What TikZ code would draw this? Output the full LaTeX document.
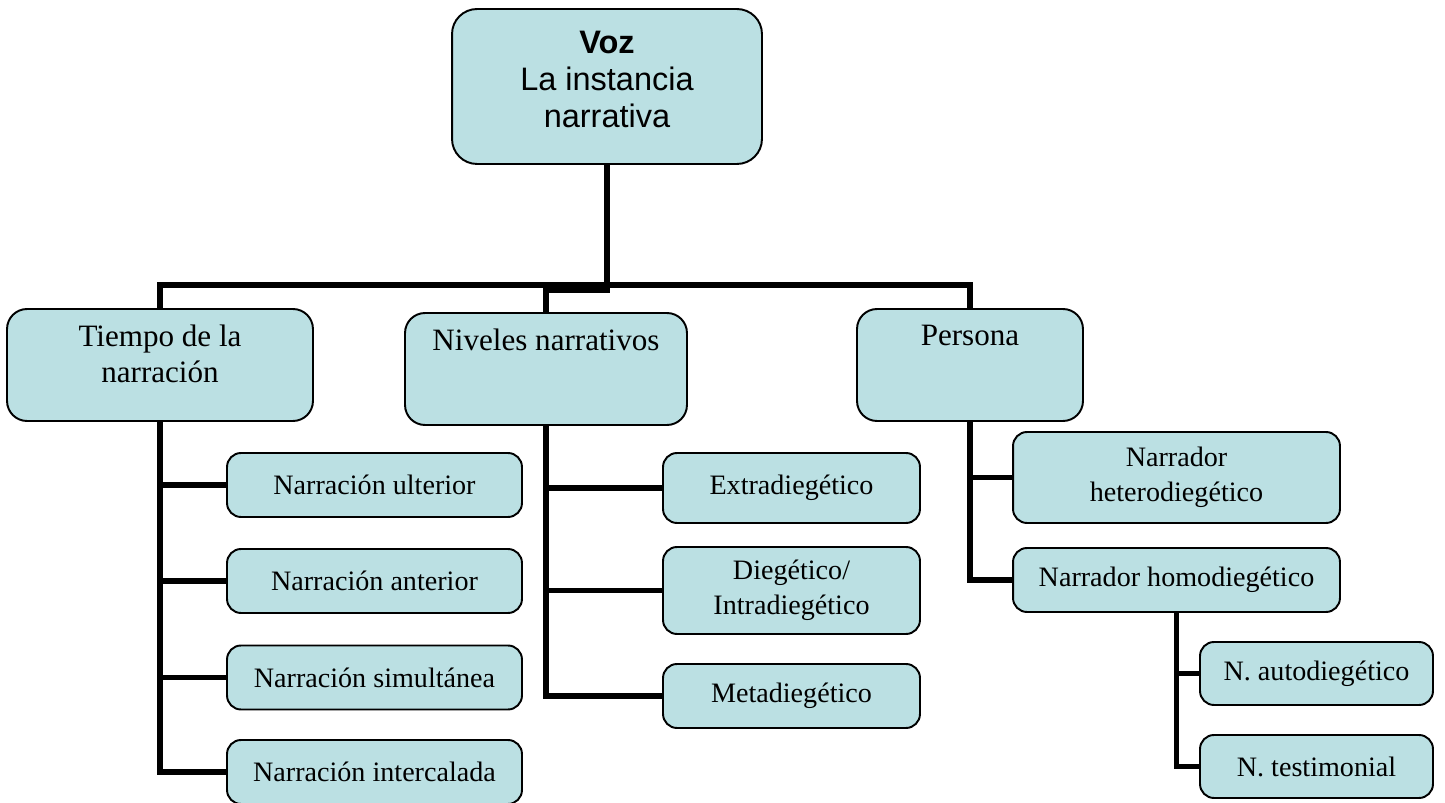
\documentclass[tikz,border=0pt]{standalone}
\usepackage{fontspec}
\setmainfont{Liberation Serif}
\newfontfamily\arialfont{Liberation Sans}
\usetikzlibrary{positioning}
\definecolor{boxfill}{RGB}{187,224,227}

\begin{document}
\begin{tikzpicture}[x=0.02cm, y=-0.02cm,
    box/.style={draw=black, fill=boxfill, line width=1.1pt, rounded corners=0.28cm,
      align=center, inner sep=0pt, font=\fontsize{16}{20}\selectfont},
    bigbox/.style={box, rounded corners=0.4cm, minimum height=2.24cm},
    toptext/.style={anchor=north, yshift=-0.34cm, inner sep=0pt, align=center,
      font=\fontsize{17.7}{20.5}\selectfont},
    link/.style={line width=3.2pt}]
        \useasboundingbox (0,0) rectangle (1445,803);

        % Draw the blocks
        \node (voz) [bigbox, rounded corners=0.5cm, minimum width=6.2cm, minimum height=3.1cm,
          label={[anchor=north, yshift=-0.46cm, inner sep=0pt, align=center,
            font=\arialfont\fontsize{18.5}{21}\selectfont]north:\textbf{Voz}\\La instancia\\narrativa}] at (607,86.5) {};

        \node (tiempo)  [bigbox, minimum width=6.12cm, label={[toptext]north:Tiempo de la\\narración}] at (160,365) {};
        \node (niveles) [bigbox, minimum width=5.64cm, label={[toptext]north:Niveles narrativos}] at (546,369) {};
        \node (persona) [bigbox, minimum width=4.52cm, label={[toptext]north:Persona}] at (970,365) {};

        \node (ulterior)    [box, minimum width=5.9cm, minimum height=1.28cm] at (374.5,485) {Narración ulterior};
        \node (anterior)    [box, minimum width=5.9cm, minimum height=1.28cm] at (374.5,581) {Narración anterior};
        \node (simultanea)  [box, minimum width=5.9cm, minimum height=1.28cm] at (374.5,677.5) {Narración simultánea};
        \node (intercalada) [box, minimum width=5.9cm, minimum height=1.28cm] at (374.5,772) {Narración intercalada};

        \node (extra) [box, minimum width=5.14cm, minimum height=1.4cm]  at (791.5,488) {Extradiegético};
        \node (diege) [box, minimum width=5.14cm, minimum height=1.74cm] at (791.5,590.5) {Diegético/\\Intradiegético};
        \node (meta)  [box, minimum width=5.14cm, minimum height=1.28cm] at (791.5,696) {Metadiegético};

        \node (hetero) [box, minimum width=6.54cm, minimum height=1.82cm] at (1176.5,477.5) {Narrador\\heterodiegético};
        \node (homo)   [box, minimum width=6.54cm, minimum height=1.28cm] at (1176.5,580) {Narrador homodiegético};

        \node (auto)  [box, minimum width=4.66cm, minimum height=1.26cm] at (1316.5,673.5) {N. autodiegético};
        \node (testi) [box, minimum width=4.66cm, minimum height=1.26cm] at (1316.5,766.5) {N. testimonial};

        % Draw the connecting lines
        \coordinate (bar)  at (607,285);
        \coordinate (bar2) at (607,290);
        \draw [link] (voz.south) -- (bar) -| (tiempo.north);
        \draw [link] (bar) -| (persona.north);
        \draw [link] (voz.south) -- (bar2) -| (niveles.north);

        \foreach \c in {ulterior, anterior, simultanea, intercalada}
          \draw [link] (tiempo.south) |- (\c.west);
        \foreach \c in {extra, diege, meta}
          \draw [link] (niveles.south) |- (\c.west);
        \foreach \c in {hetero, homo}
          \draw [link] (persona.south) |- (\c.west);
        \foreach \c in {auto, testi}
          \draw [link] (homo.south) |- (\c.west);
\end{tikzpicture}
\end{document}
